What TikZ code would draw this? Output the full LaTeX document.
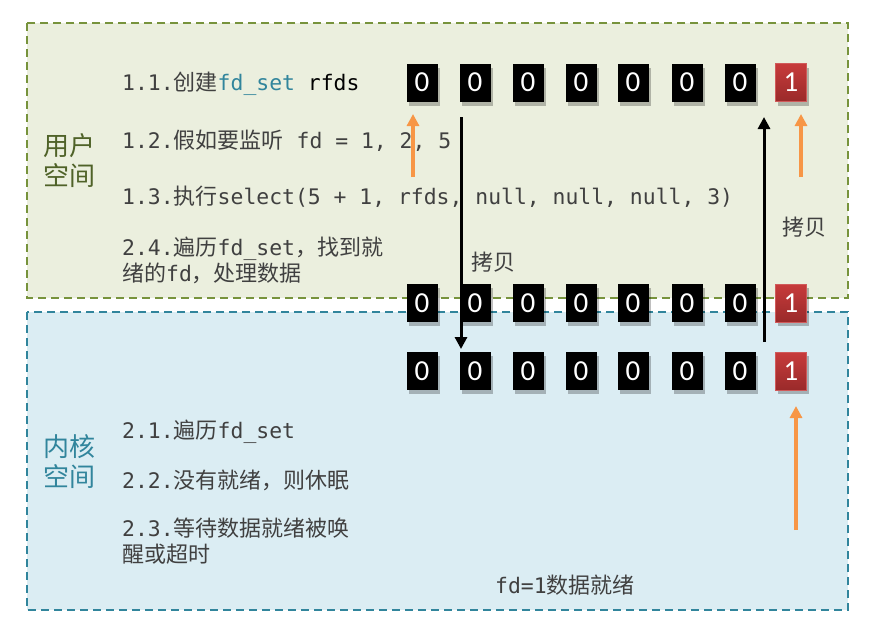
\documentclass[tikz,border=0pt]{standalone}
\usepackage{fontspec}
\setmainfont{DejaVu Sans Mono}
\newfontfamily\cjkfam{Noto Sans CJK SC}
\newfontfamily\digitfam{Carlito}
\usetikzlibrary{arrows.meta,shadows,calc}
\newcommand{\zhtxt}[1]{{\cjkfam\fontsize{22pt}{26pt}\selectfont #1}}
\definecolor{txtgray}{HTML}{404040}
\definecolor{greenfill}{HTML}{EBEFDE}
\definecolor{greenline}{HTML}{77933C}
\definecolor{greenlabel}{HTML}{4F6228}
\definecolor{bluefill}{HTML}{DBEDF3}
\definecolor{blueline}{HTML}{31859C}
\definecolor{orangearrow}{HTML}{F79646}
\definecolor{redtop}{HTML}{C73B3B}
\definecolor{redbot}{HTML}{9A2A2A}
\definecolor{redline}{HTML}{D05A5A}
\tikzset{
  area/.style={line width=1.5pt, dash pattern=on 8pt off 5pt},
  userarea/.style={area, draw=greenline, fill=greenfill},
  kernarea/.style={area, draw=blueline, fill=bluefill},
  bitbox/.style={minimum width=31pt, minimum height=38pt, inner sep=0pt,
    text=white, font=\digitfam\fontsize{29pt}{29pt}\selectfont,
    drop shadow={shadow xshift=2pt, shadow yshift=-4pt, opacity=0.25, fill=black}},
  bitzero/.style={bitbox, fill=black},
  bitone/.style={bitbox, draw=redline, line width=1pt, top color=redtop, bottom color=redbot},
  steptext/.style={anchor=west, inner sep=0pt, text=txtgray, align=left,
    font=\fontsize{21.4pt}{26pt}\selectfont},
  arealabel/.style={inner sep=0pt, align=center, font=\cjkfam\fontsize{26pt}{30pt}\selectfont},
  copylabel/.style={inner sep=0pt, text=txtgray, font=\cjkfam\fontsize{22pt}{26pt}\selectfont},
  orangearr/.style={draw=orangearrow, line width=3.5pt, -{Triangle[width=12pt,length=12pt]}},
  blackarr/.style={draw=black, line width=3pt, -{Triangle[width=12pt,length=12pt]}},
}
\begin{document}
\begin{tikzpicture}[x=1pt,y=-1pt]
\useasboundingbox (0,0) rectangle (889,622);
% areas
\draw[userarea] (27,23) rectangle (848,298);
\draw[kernarea] (27,312) rectangle (848,610);
% area labels
\node[arealabel, text=greenlabel] (userlbl) at (69,161) {用户\\空间};
\node[arealabel, text=blueline] (kernlbl) at (69,462) {内核\\空间};
% step texts
\node[steptext] (s11) at (122,84) {1.1.\zhtxt{创建}\textcolor{blueline}{fd\_set} \textcolor{black}{rfds}};
\node[steptext] (s12) at (122,141) {1.2.\zhtxt{假如要监听} fd = 1, 2, 5};
\node[steptext] (s13) at (122,197) {1.3.\zhtxt{执行}select(5 + 1, rfds, null, null, null, 3)};
\node[steptext] (s24) at (122,260) {2.4.\zhtxt{遍历}fd\_set\zhtxt{，找到就}\\\zhtxt{绪的}fd\zhtxt{，处理数据}};
\node[steptext] (s21) at (122,432) {2.1.\zhtxt{遍历}fd\_set};
\node[steptext] (s22) at (122,480) {2.2.\zhtxt{没有就绪，则休眠}};
\node[steptext] (s23) at (122,541) {2.3.\zhtxt{等待数据就绪被唤}\\\zhtxt{醒或超时}};
\node[steptext] (ready) at (495,585) {fd=1\zhtxt{数据就绪}};
% bit rows
\foreach \row/\y in {a/82.5, b/303, c/371} {
  \foreach \x [count=\i] in {422,475,528,581,633,687,740} {
    \node[bitzero] (\row\i) at (\x,\y) {0};
  }
  \node[bitone] (\row8) at (791,\y) {1};
}
% orange arrows
\coordinate (o1s) at (413,177);
\coordinate (o1e) at (413,114);
\coordinate (o2s) at (801,177);
\coordinate (o2e) at (801,114);
\coordinate (o3s) at (796,530);
\coordinate (o3e) at (796,406);
\draw[orangearr] (o1s) -- (o1e);
\draw[orangearr] (o2s) -- (o2e);
\draw[orangearr] (o3s) -- (o3e);
% black copy arrows
\coordinate (d1s) at (461,117);
\coordinate (d1e) at (461,349);
\coordinate (u1s) at (764,342);
\coordinate (u1e) at (764,117);
\draw[blackarr] (d1s) -- (d1e);
\draw[blackarr] (u1s) -- (u1e);
\node[copylabel] (copy1) at (493,262) {拷贝};
\node[copylabel] (copy2) at (804,227) {拷贝};
\end{tikzpicture}
\end{document}
